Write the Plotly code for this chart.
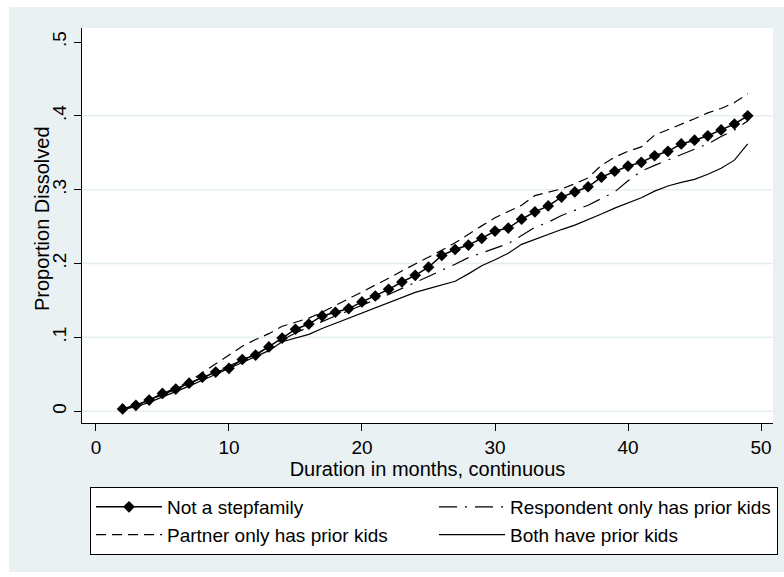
import plotly.graph_objects as go

# Duration in months (continuous) at which the cumulative proportions are evaluated
months = list(range(2, 50))

# Cumulative proportion of unions dissolved, by stepfamily type
not_stepfamily = [
    0.003, 0.008, 0.015, 0.024, 0.030, 0.038, 0.046, 0.053, 0.058, 0.070,
    0.076, 0.087, 0.099, 0.111, 0.118, 0.129, 0.134, 0.139, 0.148, 0.156,
    0.165, 0.175, 0.184, 0.195, 0.211, 0.219, 0.225, 0.234, 0.244, 0.248,
    0.260, 0.270, 0.278, 0.290, 0.297, 0.304, 0.317, 0.325, 0.332, 0.337,
    0.346, 0.352, 0.362, 0.367, 0.373, 0.381, 0.389, 0.400,
]
respondent_only = [
    0.003, 0.008, 0.015, 0.022, 0.029, 0.037, 0.046, 0.054, 0.061, 0.069,
    0.077, 0.087, 0.097, 0.106, 0.114, 0.122, 0.129, 0.136, 0.144, 0.151,
    0.158, 0.166, 0.174, 0.182, 0.191, 0.199, 0.208, 0.214, 0.221, 0.227,
    0.238, 0.249, 0.256, 0.265, 0.272, 0.279, 0.288, 0.297, 0.312, 0.325,
    0.333, 0.340, 0.348, 0.355, 0.362, 0.372, 0.381, 0.393,
]
partner_only = [
    0.003, 0.008, 0.015, 0.023, 0.031, 0.040, 0.052, 0.064, 0.075, 0.088,
    0.097, 0.105, 0.115, 0.121, 0.126, 0.134, 0.143, 0.152, 0.161, 0.171,
    0.180, 0.190, 0.199, 0.209, 0.218, 0.228, 0.240, 0.251, 0.262, 0.270,
    0.279, 0.292, 0.296, 0.301, 0.308, 0.316, 0.333, 0.344, 0.352, 0.358,
    0.374, 0.381, 0.388, 0.396, 0.404, 0.410, 0.418, 0.430,
]
both_prior = [
    0.002, 0.006, 0.012, 0.019, 0.026, 0.034, 0.042, 0.050, 0.057, 0.065,
    0.073, 0.082, 0.094, 0.099, 0.104, 0.112, 0.119, 0.126, 0.133, 0.141,
    0.148, 0.155, 0.161, 0.166, 0.171, 0.176, 0.186, 0.197, 0.205, 0.214,
    0.226, 0.233, 0.240, 0.246, 0.252, 0.259, 0.267, 0.275, 0.282, 0.289,
    0.298, 0.305, 0.310, 0.314, 0.321, 0.329, 0.340, 0.362,
]

x_ticks = [0, 10, 20, 30, 40, 50]
y_ticks = [0, 0.1, 0.2, 0.3, 0.4, 0.5]
y_tick_text = ["0", ".1", ".2", ".3", ".4", ".5"]
grid_values = [0, 0.1, 0.2, 0.3, 0.4]

FONT = "Liberation Sans, Arial, sans-serif"
REGION = "#eaf1f3"
GRID = "#e4eef0"

fig = go.Figure()

fig.add_trace(go.Scatter(
    x=months, y=not_stepfamily, name="Not a stepfamily",
    mode="lines+markers",
    line=dict(color="black", width=1.5),
    marker=dict(symbol="diamond", size=9, color="black"),
))
fig.add_trace(go.Scatter(
    x=months, y=respondent_only, name="Respondent only has prior kids",
    mode="lines",
    line=dict(color="black", width=1.2, dash="18px,8px,2px,8px"),
))
fig.add_trace(go.Scatter(
    x=months, y=partner_only, name="Partner only has prior kids",
    mode="lines",
    line=dict(color="black", width=1.2, dash="10px,6px"),
))
fig.add_trace(go.Scatter(
    x=months, y=both_prior, name="Both have prior kids",
    mode="lines",
    line=dict(color="black", width=1.2),
))

# Plot-area margins in px, used to place things outside the plot area
L, R, T, B = 82, 11, 28, 154
W, H = 784, 577
pw, ph = W - L - R, H - T - B


def px_x(p):
    return (p - L) / pw


def px_y(p):
    return (H - B - p) / ph


shapes = [
    # white border round the graph region
    dict(type="rect", xref="paper", yref="paper", layer="below",
         x0=px_x(0), x1=px_x(W), y0=px_y(7), y1=px_y(0),
         fillcolor="white", line=dict(width=0)),
    dict(type="rect", xref="paper", yref="paper", layer="below",
         x0=px_x(0), x1=px_x(9), y0=px_y(H), y1=px_y(0),
         fillcolor="white", line=dict(width=0)),
    dict(type="rect", xref="paper", yref="paper", layer="below",
         x0=px_x(0), x1=px_x(W), y0=px_y(H), y1=px_y(572),
         fillcolor="white", line=dict(width=0)),
]
for g in grid_values:
    shapes.append(dict(type="line", xref="paper", yref="y", layer="below",
                       x0=0, x1=1, y0=g, y1=g,
                       line=dict(color=GRID, width=1.5)))

fig.update_layout(
    width=W, height=H,
    margin=dict(l=L, r=R, t=T, b=B, autoexpand=False),
    paper_bgcolor=REGION,
    plot_bgcolor="white",
    font=dict(family=FONT, size=19, color="black"),
    shapes=shapes,
    showlegend=True,
    legend=dict(
        orientation="h",
        x=px_x(90), y=px_y(487), xanchor="left", yanchor="top",
        bgcolor="white", bordercolor="black", borderwidth=1,
        font=dict(family=FONT, size=19, color="black"),
        itemwidth=66,
        entrywidth=262, entrywidthmode="pixels",
        traceorder="normal",
    ),
    annotations=[
        dict(text="Proportion Dissolved", textangle=-90,
             xref="paper", yref="paper", x=px_x(42), y=px_y(219),
             xanchor="center", yanchor="middle", showarrow=False,
             font=dict(family=FONT, size=20, color="black")),
    ],
    xaxis=dict(
        range=[-1.05, 50.9],
        tickmode="array", tickvals=x_ticks,
        ticks="outside", ticklen=7, tickwidth=1.3, tickcolor="black",
        showline=True, linecolor="black", linewidth=1.3,
        showgrid=False, zeroline=False,
        tickfont=dict(size=19),
        title=dict(text="Duration in months, continuous",
                   font=dict(size=20), standoff=0),
    ),
    yaxis=dict(
        range=[-0.016, 0.519],
        tickmode="array", tickvals=y_ticks, ticktext=y_tick_text,
        tickangle=-90,
        ticks="outside", ticklen=7, tickwidth=1.3, tickcolor="black",
        showline=True, linecolor="black", linewidth=1.3,
        showgrid=False, zeroline=False,
        tickfont=dict(size=19),
    ),
)

fig.write_html("out.html")
